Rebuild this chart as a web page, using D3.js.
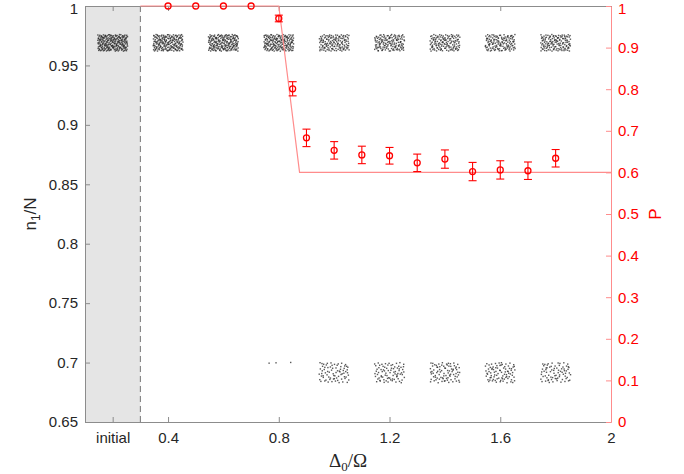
<!DOCTYPE html>
<html>
<head>
<meta charset="utf-8">
<script src="https://cdn.jsdelivr.net/npm/d3@7"></script>
<style>
  body { margin: 0; background: #fff; }
  svg { font-family: "Liberation Sans", Arial, sans-serif; }
</style>
</head>
<body>
<svg id="chart" width="684" height="474"></svg>
<script>
// measured probability P vs detuning
var pX = [0.4, 0.5, 0.6, 0.7, 0.8, 0.85, 0.9, 1.0, 1.1, 1.2, 1.3, 1.4, 1.5, 1.6, 1.7, 1.8];
var pY = [1, 1, 1, 1, 0.97, 0.801, 0.683, 0.653, 0.642, 0.640, 0.623, 0.632, 0.602, 0.606, 0.604, 0.634];
var pErr = [0, 0, 0, 0, 0.008, 0.017, 0.021, 0.021, 0.021, 0.020, 0.021, 0.022, 0.022, 0.022, 0.021, 0.021];

// theory line
var lineX = [0.3, 0.8, 0.875, 2];
var lineY = [1, 1, 0.6, 0.6];

// n1/N clouds: centre x, y band, number of shots in each band
var cloudX = [0.2, 0.4, 0.6, 0.8, 1.0, 1.2, 1.4, 1.6, 1.8];
var upperLo = 0.962, upperHi = 0.976;
var lowerLo = 0.683, lowerHi = 0.700;
var upperCount = [230, 200, 200, 190, 140, 140, 135, 135, 140];
var lowerCount = [0, 0, 0, 3, 75, 80, 85, 85, 75];
var cloudHalfWidth = 0.054;

var xTicks = [0.2, 0.4, 0.8, 1.2, 1.6, 2];
var leftTicks = [0.65, 0.7, 0.75, 0.8, 0.85, 0.9, 0.95, 1];
var rightTicks = [0, 0.1, 0.2, 0.3, 0.4, 0.5, 0.6, 0.7, 0.8, 0.9, 1];

var margin = { top: 6, right: 73, bottom: 52, left: 85 };
var svg = d3.select('#chart');
var W = 684 - margin.left - margin.right;
var H = 474 - margin.top - margin.bottom;
var g = svg.append('g').attr('transform', 'translate(' + margin.left + ',' + margin.top + ')');

var x = d3.scaleLinear().domain([0.1, 2]).range([0, W]);
var yL = d3.scaleLinear().domain([0.65, 1]).range([H, 0]);
var yR = d3.scaleLinear().domain([0, 1]).range([H, 0]);

var grey = '#8c8c8c', red = '#ff0000', lightRed = '#ff8c8c';

// shaded "initial" region
g.append('rect').attr('x', x(0.1)).attr('y', 0)
  .attr('width', x(0.3) - x(0.1)).attr('height', H).attr('fill', '#e5e5e5');
g.append('line').attr('x1', x(0.3)).attr('x2', x(0.3)).attr('y1', 0).attr('y2', H)
  .attr('stroke', '#777').attr('stroke-dasharray', '6,4');

// leaped Halton spread inside each cloud, only for texture
var halton = function(i, b) {
  var f = 1, r = 0;
  while (i > 0) { f = f / b; r += f * (i % b); i = Math.floor(i / b); }
  return r;
};
var dots = [];
var k = 31;
cloudX.forEach(function(cx, c) {
  for (var i = 0; i < upperCount[c]; i++, k++) {
    dots.push([cx - cloudHalfWidth + 2 * cloudHalfWidth * halton(k * 409, 2), upperLo + (upperHi - upperLo) * halton(k * 409, 3)]);
  }
  if (lowerCount[c] < 5) return;
  for (var j = 0; j < lowerCount[c]; j++, k++) {
    dots.push([cx - cloudHalfWidth + 2 * cloudHalfWidth * halton(k * 409, 2), lowerLo + (lowerHi - lowerLo) * halton(k * 409, 3)]);
  }
});
// the few lower shots at 0.8
dots.push([0.765, 0.6995], [0.79, 0.6998], [0.843, 0.7001]);

g.append('g').selectAll('rect').data(dots).enter().append('rect')
  .attr('x', function(d) { return x(d[0]) - 0.7; })
  .attr('y', function(d) { return yL(d[1]) - 0.7; })
  .attr('width', 1.4).attr('height', 1.4)
  .attr('fill', '#222').attr('fill-opacity', 0.75);

// axes frame
var tickLen = 5;
var axBottom = g.append('g').attr('transform', 'translate(0,' + H + ')')
  .call(d3.axisBottom(x).tickValues(xTicks).tickSizeInner(-tickLen).tickSizeOuter(0).tickPadding(10)
    .tickFormat(function(d) { return d === 0.2 ? 'initial' : d3.format('')(d); }));
var axTop = g.append('g')
  .call(d3.axisTop(x).tickValues(xTicks).tickSizeInner(-tickLen).tickSizeOuter(0).tickFormat(''));
var axLeft = g.append('g')
  .call(d3.axisLeft(yL).tickValues(leftTicks).tickSizeInner(-tickLen).tickSizeOuter(0).tickPadding(7)
    .tickFormat(d3.format('')));
var axRight = g.append('g').attr('transform', 'translate(' + W + ',0)')
  .call(d3.axisRight(yR).tickValues(rightTicks).tickSizeInner(-tickLen).tickSizeOuter(0).tickPadding(7)
    .tickFormat(d3.format('')));

[axBottom, axTop, axLeft].forEach(function(a) {
  a.select('.domain').attr('stroke', grey);
  a.selectAll('.tick line').attr('stroke', grey);
  a.selectAll('.tick text').attr('fill', '#262626').attr('font-size', 15)
    .attr('font-family', '"Liberation Sans", Arial, sans-serif');
});
axRight.select('.domain').attr('stroke', lightRed);
axRight.selectAll('.tick line').attr('stroke', lightRed);
axRight.selectAll('.tick text').attr('fill', red).attr('font-size', 15)
  .attr('font-family', '"Liberation Sans", Arial, sans-serif');
// keep the top "1" labels inside the picture
axLeft.selectAll('.tick text').filter(function(d) { return d === 1; }).attr('dy', '0.5em');
axRight.selectAll('.tick text').filter(function(d) { return d === 1; }).attr('dy', '0.5em');

// theory line
var pts = lineX.map(function(v, i) { return [v, lineY[i]]; });
g.append('path').datum(pts)
  .attr('d', d3.line().x(function(d) { return x(d[0]); }).y(function(d) { return yR(d[1]); }))
  .attr('fill', 'none').attr('stroke', lightRed).attr('stroke-width', 1.2);

// error bars and markers
var meas = pX.map(function(v, i) { return { x: v, y: pY[i], e: pErr[i] }; });
var eb = g.append('g').selectAll('g').data(meas).enter().append('g')
  .attr('stroke', red).attr('stroke-width', 1.1).attr('fill', 'none');
eb.filter(function(d) { return d.e > 0; }).each(function(d) {
  var s = d3.select(this), cx = x(d.x);
  s.append('line').attr('x1', cx).attr('x2', cx).attr('y1', yR(d.y - d.e)).attr('y2', yR(d.y + d.e));
  s.append('line').attr('x1', cx - 4).attr('x2', cx + 4).attr('y1', yR(d.y - d.e)).attr('y2', yR(d.y - d.e));
  s.append('line').attr('x1', cx - 4).attr('x2', cx + 4).attr('y1', yR(d.y + d.e)).attr('y2', yR(d.y + d.e));
});
eb.append('circle').attr('cx', function(d) { return x(d.x); }).attr('cy', function(d) { return yR(d.y); })
  .attr('r', 3).attr('stroke-width', 1.3);

// axis titles
var nl = svg.append('text').attr('transform', 'translate(36,' + (margin.top + H / 2) + ') rotate(-90)')
  .attr('text-anchor', 'middle').attr('font-size', 17).attr('fill', '#262626');
nl.append('tspan').text('n');
nl.append('tspan').attr('font-size', 12).attr('dy', 4).text('1');
nl.append('tspan').attr('dy', -4).text('/N');

svg.append('text').attr('transform', 'translate(661,' + (margin.top + H / 2) + ') rotate(-90)')
  .attr('text-anchor', 'middle').attr('font-size', 17).attr('fill', red).text('P');

var xl = svg.append('text').attr('x', margin.left + W / 2).attr('y', 467)
  .attr('text-anchor', 'middle').attr('font-size', 19).attr('fill', '#262626')
  .attr('font-family', '"Liberation Serif", "DejaVu Serif", serif');
xl.append('tspan').text('Δ');
xl.append('tspan').attr('font-size', 13).attr('dy', 4).text('0');
xl.append('tspan').attr('dy', -4).text('/Ω');
</script>
</body>
</html>
